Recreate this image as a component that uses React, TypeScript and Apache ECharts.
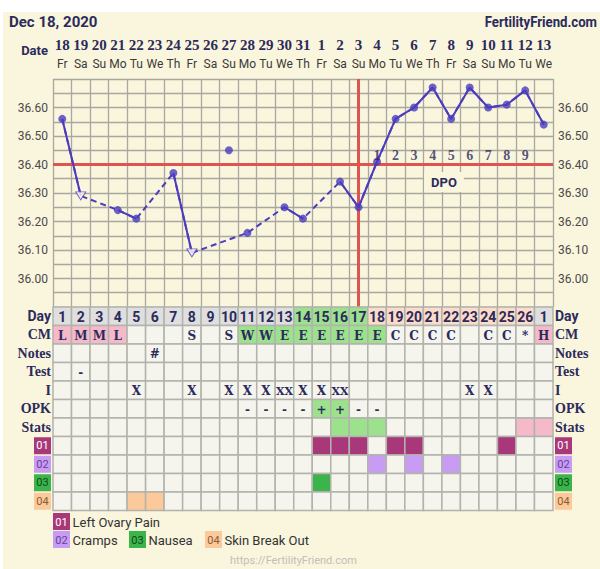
import React, { useEffect, useRef } from 'react';
import * as echarts from 'echarts';

// ---------- data ----------
const dates = ['18','19','20','21','22','23','24','25','26','27','28','29','30','31','1','2','3','4','5','6','7','8','9','10','11','12','13'];
const weekdays = ['Fr','Sa','Su','Mo','Tu','We','Th','Fr','Sa','Su','Mo','Tu','We','Th','Fr','Sa','Su','Mo','Tu','We','Th','Fr','Sa','Su','Mo','Tu','We'];
const cycleDays = ['1','2','3','4','5','6','7','8','9','10','11','12','13','14','15','16','17','18','19','20','21','22','23','24','25','26','1'];
const temps: (number | null)[] = [36.56, 36.29, null, 36.24, 36.21, null, 36.37, 36.09, null, 36.45, 36.16, null, 36.25, 36.21, null, 36.34, 36.25, 36.41, 36.56, 36.60, 36.67, 36.56, 36.67, 36.60, 36.61, 36.66, 36.54];
const openTriangleDays = [1, 7];
const unconnectedDays = [9];
const coverline = 36.40;
const ovulationIndex = 16;
const dpoLabels = ['1','2','3','4','5','6','7','8','9'];
const dpoLabelTemp = 36.432;
const yTicks = { min: 35.9, max: 36.7, step: 0.05 };

const rowNames = ['Day','CM','Notes','Test','I','OPK','Stats','01','02','03','04'];
const cm = ['L','M','M','L','','','','S','','S','W','W','E','E','E','E','E','E','C','C','C','C','','C','C','*','H'];
const cmPinkDays = [0,1,2,3,26];
const cmGreenDays = [10,11,12,13,14,15,16,17];
const fertileDayCells = [13,14,15,16];
const lutealDayCells = [17,18,19,20,21,22,23,24,25];
const notes = ['','','','','','#','','','','','','','','','','','','','','','','','','','','',''];
const test = ['','-','','','','','','','','','','','','','','','','','','','','','','','','',''];
const intercourse = ['','','','','X','','','X','','X','X','X','XX','X','X','XX','','','','','','','X','X','','',''];
const opk = ['','','','','','','','','','','-','-','-','-','+','+','-','-','','','','','','','','',''];
const opkPositiveDays = [14,15];
const statsGreenDays = [15,16,17];
const statsPinkDays = [25,26];
const symptomNames = ['Left Ovary Pain','Cramps','Nausea','Skin Break Out'];
const symptomCodes = ['01','02','03','04'];
const symptomDays = [[14,15,16,18,19,24],[17,19,21],[14],[4,5]];

// ---------- styles ----------
const NAVY = '#2b2b5c';
const CREAM = '#faf5dd';
const LINE = '#4b3cbe';
const RED = '#de5450';
const GRID = '#a9a8a0';
const SANS = "Roboto, 'Noto Sans', sans-serif";
const SERIF = "'Liberation Serif', 'DejaVu Serif', serif";
const SLAB = "'DejaVu Serif', 'Liberation Serif', serif";
const symFill = ['#a8387a', '#c99cf3', '#3cb44c', '#fcc99a'];
const symText = ['#ffffff', '#6a3ca0', '#0d4a18', '#8a5c34'];
const PINK = '#f5b9c9';
const GREEN = '#9ce28c';
const GREY = '#dfdfdf';
const PEACH = '#fcdcc8';
const CELL = '#f5f5ee';

function cellFill(c: number, r: number): string {
  if (r === 0) return lutealDayCells.includes(c) ? PEACH : fertileDayCells.includes(c) ? GREEN : GREY;
  if (r === 1) return cmPinkDays.includes(c) ? PINK : cmGreenDays.includes(c) ? GREEN : CELL;
  if (r === 5) return opkPositiveDays.includes(c) ? GREEN : CELL;
  if (r === 6) return statsGreenDays.includes(c) ? GREEN : statsPinkDays.includes(c) ? PINK : CELL;
  if (r >= 7) return symptomDays[r - 7].includes(c) ? symFill[r - 7] : CELL;
  return CELL;
}
function cellText(c: number, r: number): string {
  if (r === 0) return cycleDays[c];
  if (r === 1) return cm[c];
  if (r === 2) return notes[c];
  if (r === 3) return test[c];
  if (r === 4) return intercourse[c];
  if (r === 5) return opk[c];
  return '';
}

export default function App() {
  const ref = useRef<HTMLDivElement>(null);
  useEffect(() => {
    const chart = echarts.init(ref.current!, null, { renderer: 'svg' });
    const lineTemps = temps.map((t, i) => (unconnectedDays.includes(i) ? null : t));
    const markers: any[] = [];
    temps.forEach((t, i) => {
      if (t == null) return;
      const open = openTriangleDays.includes(i);
      markers.push({
        value: [i, t],
        symbol: open ? 'triangle' : 'circle',
        symbolRotate: open ? 180 : 0,
        symbolSize: open ? [10, 8] : 8,
        itemStyle: open ? { color: '#fbf9ee', borderColor: LINE, borderWidth: 1 } : { color: LINE },
      });
    });
    const dpoData = dpoLabels.map((_, k) => [ovulationIndex + 1 + k, dpoLabelTemp]);
    const cells: number[][] = [];
    for (let r = 0; r < rowNames.length; r++) for (let c = 0; c < dates.length; c++) cells.push([c, r]);

    const rowRich: any = {
      sans: { fontFamily: SANS, fontWeight: 'bold', fontSize: 14, color: NAVY },
      ser: { fontFamily: SERIF, fontWeight: 'bold', fontSize: 14, color: NAVY },
    };
    symptomCodes.forEach((code, k) => {
      rowRich['s' + k] = { backgroundColor: symFill[k], color: symText[k], width: 17, height: 17, lineHeight: 17, align: 'center', fontSize: 11, fontFamily: SANS };
    });
    const rowFormatter = (v: string) => {
      const k = symptomCodes.indexOf(v);
      if (k >= 0) return `{s${k}|${v}}`;
      return v === 'Day' ? `{sans|${v}}` : `{ser|${v}}`;
    };
    const tempLabel = (v: number) => {
      const t = Math.round(v * 100);
      if (t % 10 !== 0 || t < 3600 || t > 3660) return '';
      return (t / 100).toFixed(2);
    };
    const tempAxisCommon = {
      type: 'value', gridIndex: 0, min: yTicks.min, max: yTicks.max, interval: yTicks.step,
      axisLine: { show: false }, axisTick: { show: false },
      axisLabel: { formatter: tempLabel, color: '#4a4a4a', fontSize: 12, fontFamily: SANS, margin: 5, showMinLabel: true, showMaxLabel: true },
    };

    const legendGraphics: any[] = [];
    const legendPos = [[53, 513], [53, 531], [129, 531], [205, 531]];
    symptomNames.forEach((name, k) => {
      const [x, y] = legendPos[k];
      legendGraphics.push({ type: 'rect', left: x, top: y, shape: { width: 17, height: 17 }, style: { fill: symFill[k] } });
      legendGraphics.push({ type: 'text', x: x + 8.5, y: y + 9, style: { text: symptomCodes[k], fill: symText[k], font: `11px ${SANS}`, align: 'center', verticalAlign: 'middle' } });
      legendGraphics.push({ type: 'text', x: x + 19.5, y: y + 9, style: { text: name, fill: '#333', font: `13px ${SANS}`, align: 'left', verticalAlign: 'middle' } });
    });

    chart.setOption({
      animation: false,
      grid: [
        { left: 53, top: 79, width: 500, height: 228 },
        { left: 53, top: 307, width: 500, height: 203.5 },
      ],
      xAxis: [
        {
          type: 'category', gridIndex: 0, data: dates, position: 'top', boundaryGap: true,
          axisLine: { show: false }, axisTick: { show: false },
          splitLine: { show: true, interval: 0, lineStyle: { color: GRID, width: 1.3 } },
          axisLabel: {
            interval: 0, margin: 6,
            formatter: (v: string, i: number) => `{d|${v}}\n{w|${weekdays[i]}}`,
            rich: {
              d: { fontFamily: SERIF, fontWeight: 'bold', fontSize: 15, color: NAVY, lineHeight: 20 },
              w: { fontFamily: SANS, fontSize: 12, color: '#3a3a3a', lineHeight: 18 },
            },
          },
        },
        { type: 'category', gridIndex: 1, data: dates, show: false, boundaryGap: true },
      ],
      yAxis: [
        { ...tempAxisCommon, position: 'left', splitLine: { show: true, lineStyle: { color: GRID, width: 1.3 } } },
        { ...tempAxisCommon, position: 'right', splitLine: { show: false } },
        {
          type: 'category', gridIndex: 1, data: rowNames, inverse: true, position: 'left',
          axisLine: { show: false }, axisTick: { show: false }, splitLine: { show: false },
          axisLabel: { interval: 0, margin: 2, formatter: rowFormatter, rich: rowRich },
        },
        {
          type: 'category', gridIndex: 1, data: rowNames, inverse: true, position: 'right',
          axisLine: { show: false }, axisTick: { show: false }, splitLine: { show: false },
          axisLabel: { interval: 0, margin: 2, formatter: rowFormatter, rich: rowRich },
        },
      ],
      series: [
        {
          type: 'line', xAxisIndex: 0, yAxisIndex: 0, data: lineTemps, connectNulls: true,
          symbol: 'none', z: 3, silent: true,
          lineStyle: { color: LINE, width: 2, type: [6, 4] },
          markLine: {
            symbol: 'none', silent: true, label: { show: false }, z: 2,
            lineStyle: { color: RED, width: 3, type: 'solid' },
            data: [{ yAxis: coverline }, { xAxis: dates[ovulationIndex] }],
          },
        },
        {
          type: 'line', xAxisIndex: 0, yAxisIndex: 0, data: lineTemps, connectNulls: false,
          symbol: 'none', z: 4, silent: true,
          lineStyle: { color: LINE, width: 2, type: 'solid' },
        },
        {
          type: 'scatter', xAxisIndex: 0, yAxisIndex: 0, data: markers, z: 5, silent: true,
        },
        {
          type: 'scatter', xAxisIndex: 0, yAxisIndex: 0, data: dpoData, z: 6, silent: true,
          symbolSize: 1, itemStyle: { color: 'rgba(0,0,0,0)' },
          label: {
            show: true, position: 'inside', formatter: (p: any) => dpoLabels[p.dataIndex],
            fontFamily: SERIF, fontWeight: 'bold', fontSize: 14, color: NAVY,
          },
        },
        {
          type: 'custom', xAxisIndex: 1, yAxisIndex: 2, data: cells, silent: true,
          encode: { x: 0, y: 1 },
          renderItem: (params: any, api: any) => {
            const c = api.value(0) as number;
            const r = api.value(1) as number;
            const p = api.coord([c, r]);
            const s = api.size([1, 1]) as number[];
            const children: any[] = [{
              type: 'rect',
              shape: { x: p[0] - s[0] / 2, y: p[1] - s[1] / 2, width: s[0], height: s[1] },
              style: { fill: cellFill(c, r), stroke: '#b3b3ad', lineWidth: 1.5 },
            }];
            const txt = cellText(c, r);
            if (txt) {
              const isDay = r === 0;
              children.push({
                type: 'text',
                style: {
                  text: txt, x: p[0], y: p[1] + 1, align: 'center', verticalAlign: 'middle', fill: NAVY,
                  fontFamily: isDay ? SANS : SLAB, fontWeight: 'bold',
                  fontSize: isDay ? 14 : (txt === 'XX' ? 11 : 12),
                },
              });
            }
            return { type: 'group', children };
          },
        },
      ],
      graphic: [
        { type: 'text', left: 9, top: 14, style: { text: 'Dec 18, 2020', fill: NAVY, font: `bold 15px ${SANS}` } },
        { type: 'text', x: 597, y: 22, scaleX: 0.88, originX: 0, originY: 0, style: { text: 'FertilityFriend.com', fill: NAVY, font: `bold 15px ${SANS}`, align: 'right', verticalAlign: 'middle' } },
        { type: 'text', x: 48, y: 50, style: { text: 'Date', fill: NAVY, font: `bold 13px ${SANS}`, align: 'right', verticalAlign: 'middle' } },
        { type: 'text', x: 444, y: 182, z: 1, style: { text: 'DPO', fill: NAVY, font: `bold 13px ${SANS}`, align: 'center', verticalAlign: 'middle', backgroundColor: CREAM, padding: [4, 7, 3, 7] } },
        { type: 'text', x: 230, y: 555, style: { text: 'https://FertilityFriend.com', fill: '#c0c0b8', font: `11px ${SANS}`, align: 'left', verticalAlign: 'top' } },
        ...legendGraphics,
      ],
    });
    return () => chart.dispose();
  }, []);
  return (
    <div style={{ position: 'fixed', left: 0, top: 0, width: 600, height: 569, background: '#ffffff' }}>
      <div style={{ position: 'absolute', left: 3, top: 12, right: 0, bottom: 0, background: CREAM }} />
      <div ref={ref} style={{ position: 'absolute', left: 0, top: 0, width: 600, height: 569 }} />
    </div>
  );
}
